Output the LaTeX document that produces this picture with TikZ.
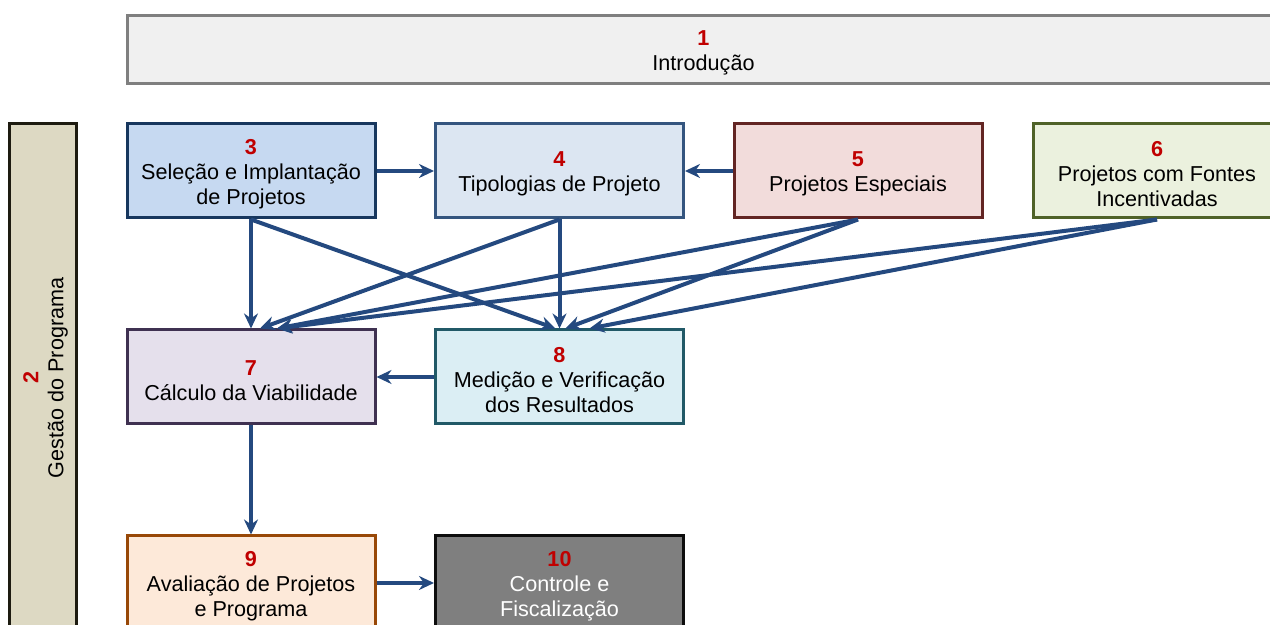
\documentclass[tikz,border=0pt]{standalone}
\usepackage{fontspec}
\setmainfont{Liberation Sans}
\usetikzlibrary{positioning,arrows.meta}
\definecolor{numred}{HTML}{C00000}
\definecolor{flow}{HTML}{24497F}
\definecolor{fillintro}{HTML}{F0F0F0}
\definecolor{lineintro}{HTML}{7F7F7F}
\definecolor{fillgest}{HTML}{DDD9C3}
\definecolor{linegest}{HTML}{1D1B10}
\definecolor{fillsel}{HTML}{C6D9F1}
\definecolor{linesel}{HTML}{17375E}
\definecolor{filltip}{HTML}{DCE6F2}
\definecolor{linetip}{HTML}{34557F}
\definecolor{fillesp}{HTML}{F2DCDB}
\definecolor{lineesp}{HTML}{632523}
\definecolor{fillinc}{HTML}{EBF1DE}
\definecolor{lineinc}{HTML}{4F6228}
\definecolor{fillcalc}{HTML}{E5E0EC}
\definecolor{linecalc}{HTML}{3F3151}
\definecolor{fillmed}{HTML}{DBEEF4}
\definecolor{linemed}{HTML}{215967}
\definecolor{fillaval}{HTML}{FDE9D9}
\definecolor{lineaval}{HTML}{984807}
\definecolor{fillctrl}{HTML}{7F7F7F}
\definecolor{linectrl}{HTML}{0D0D0D}
\newcommand{\num}[1]{{\rule{0pt}{10.7pt}\bfseries\color{numred}#1}}

\begin{document}
\begin{tikzpicture}[x=0.5pt,y=0.5pt,
  box/.style={draw,line width=1.5pt,minimum width=124pt,minimum height=47pt,align=center,inner sep=2pt,
    font=\fontsize{10.8}{12.5}\selectfont},
  flowarrow/.style={draw=flow,line width=2pt,-{Stealth[length=7.5pt,width=7pt]}}]
  \useasboundingbox (0,0) rectangle (1270,625);
  \clip (0,0) rectangle (1270,625);
  \node[box,minimum width=576.5pt,minimum height=34pt,fill=fillintro,draw=lineintro] (b1) at (703.5,575) {\num{1}\\Introdução};
  \node[box,minimum width=254pt,minimum height=33.5pt,fill=fillgest,draw=linegest,rotate=90] (b2) at (42.5,247) {\num{2}\\Gestão do Programa};
  \foreach \n/\x/\y/\c/\t in {
    3/251/454/sel/{Seleção e Implantação\\de Projetos}, 4/559.5/454/tip/{Tipologias de Projeto},
    5/858/454/esp/{Projetos Especiais}, 6/1157/454/inc/{Projetos com Fontes\\Incentivadas},
    7/251/248/calc/{Cálculo da Viabilidade}, 8/559.5/248/med/{Medição e Verificação\\dos Resultados},
    9/251/42/aval/{Avaliação de Projetos\\e Programa}}
    {\node[box,fill=fill\c,draw=line\c] (b\n) at (\x,\y) {\num{\n}\\\t};}
  \node[box,fill=fillctrl,draw=linectrl,text=white] (b10) at (559.5,42) {\num{10}\\Controle e\\Fiscalização};
  \draw[flowarrow] (b3.east) -- (b4.west);
  \draw[flowarrow] (b5.west) -- (b4.east);
  \draw[flowarrow] (b3.south) -- (b7.north);
  \draw[flowarrow] (b3.south) -- ([xshift=-2pt]b8.north);
  \draw[flowarrow] (b4.south) -- ([xshift=4.5pt]b7.north);
  \draw[flowarrow] (b4.south) -- (b8.north);
  \draw[flowarrow] (b5.south) -- ([xshift=13pt]b7.north);
  \draw[flowarrow] (b5.south) -- ([xshift=3pt]b8.north);
  \draw[flowarrow] (b6.south) -- ([xshift=13pt]b7.north);
  \draw[flowarrow] (b6.south) -- ([xshift=15pt]b8.north);
  \draw[flowarrow] (b8.west) -- (b7.east);
  \draw[flowarrow] (b7.south) -- (b9.north);
  \draw[flowarrow] (b9.east) -- (b10.west);
\end{tikzpicture}
\end{document}
